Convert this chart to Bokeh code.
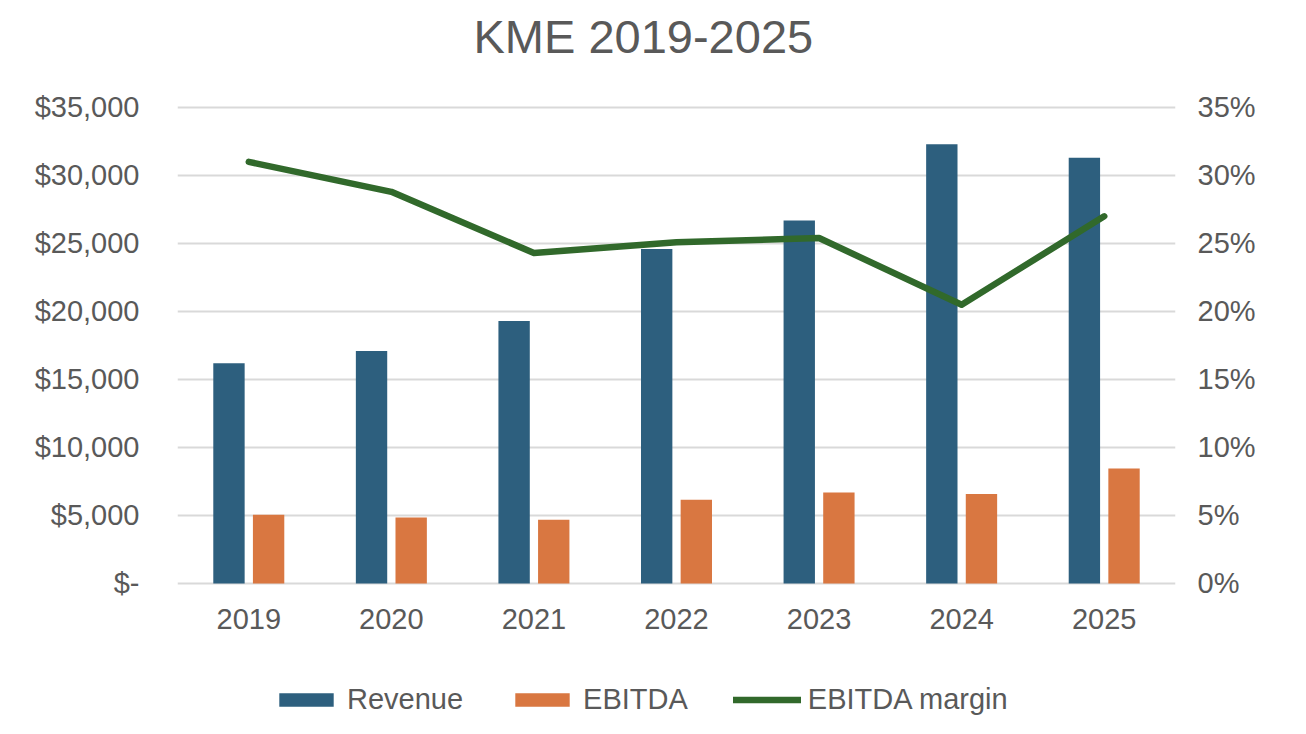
from bokeh.plotting import figure
from bokeh.models import (ColumnDataSource, FactorRange, Range1d, LinearAxis, FixedTicker,
                          NumeralTickFormatter, Legend, LegendItem)
from bokeh.transform import dodge
from bokeh.embed import file_html
from bokeh.resources import INLINE

years = ["2019", "2020", "2021", "2022", "2023", "2024", "2025"]
revenue = [16200, 17100, 19300, 24600, 26700, 32300, 31300]
ebitda = [5050, 4850, 4680, 6150, 6700, 6580, 8460]
margin = [0.310, 0.288, 0.243, 0.251, 0.254, 0.205, 0.270]

left_ticks = [0, 5000, 10000, 15000, 20000, 25000, 30000, 35000]
left_labels = ["$-", "$5,000", "$10,000", "$15,000", "$20,000", "$25,000", "$30,000", "$35,000"]
right_ticks = [0, 0.05, 0.10, 0.15, 0.20, 0.25, 0.30, 0.35]

FONT = "Liberation Sans"
TXT = "#595959"
C_REV = "#2D5F7E"
C_EB = "#D97741"
C_MAR = "#31692B"

src = ColumnDataSource(dict(year=years, revenue=revenue, ebitda=ebitda, margin=margin))

# the frame runs from just under the title to the bottom of the page, so that the
# legend can sit inside it; the category axis is pinned at y = 0
p = figure(x_range=FactorRange(*years), y_range=Range1d(-11103, 37794),
           frame_width=998, frame_height=665, output_backend="svg", toolbar_location=None,
           min_border_left=177, min_border_right=123, min_border_top=0, min_border_bottom=0,
           outline_line_color=None, title="KME 2019-2025")
p.extra_y_ranges = {"pct": Range1d(-0.11103, 0.37794)}

p.title.align = "left"
p.title.offset = 296
p.title.vertical_align = "bottom"
p.title.standoff = 14
p.title.text_font = FONT
p.title.text_font_size = "47px"
p.title.text_font_style = "normal"
p.title.text_color = TXT

r_rev = p.vbar(x=dodge("year", -0.139, range=p.x_range), top="revenue", width=0.22,
               source=src, color=C_REV, line_color=None)
r_eb = p.vbar(x=dodge("year", 0.139, range=p.x_range), top="ebitda", width=0.22,
              source=src, color=C_EB, line_color=None)
r_mar = p.line(x="year", y="margin", source=src, y_range_name="pct", line_color=C_MAR,
               line_width=6.5, line_cap="round", line_join="round")

# left axis
yax = p.yaxis[0]
yax.ticker = FixedTicker(ticks=left_ticks)
yax.major_label_overrides = {t: l for t, l in zip(left_ticks, left_labels)}
yax.major_label_standoff = 38

ax_r = LinearAxis(y_range_name="pct", ticker=FixedTicker(ticks=right_ticks),
                  formatter=NumeralTickFormatter(format="0%"))
ax_r.major_label_standoff = 22
p.add_layout(ax_r, "right")

xax = p.xaxis[0]
xax.fixed_location = 0

for ax in [xax, yax, ax_r]:
    ax.axis_line_color = None
    ax.major_tick_line_color = None
    ax.minor_tick_line_color = None
    ax.major_tick_out = 0
    ax.major_tick_in = 0
    ax.major_label_text_font = FONT
    ax.major_label_text_font_size = "29px"
    ax.major_label_text_color = TXT
xax.major_label_standoff = 26

p.xgrid.grid_line_color = None
p.ygrid.grid_line_color = "#D9D9D9"
p.ygrid.grid_line_width = 2
p.ygrid.ticker = FixedTicker(ticks=left_ticks)
p.ygrid.level = "underlay"

legend = Legend(items=[LegendItem(label="Revenue", renderers=[r_rev]),
                       LegendItem(label="EBITDA", renderers=[r_eb]),
                       LegendItem(label="EBITDA margin", renderers=[r_mar])],
                orientation="horizontal", location=(95, 18))
legend.label_text_font = FONT
legend.label_text_font_size = "29px"
legend.label_text_color = TXT
legend.glyph_width = 68
legend.glyph_height = 17
legend.label_standoff = 7
legend.spacing = 45
legend.padding = 5
legend.margin = 0
legend.border_line_color = None
legend.background_fill_alpha = 0
p.add_layout(legend)

open("out.html", "w").write(file_html(p, INLINE))
